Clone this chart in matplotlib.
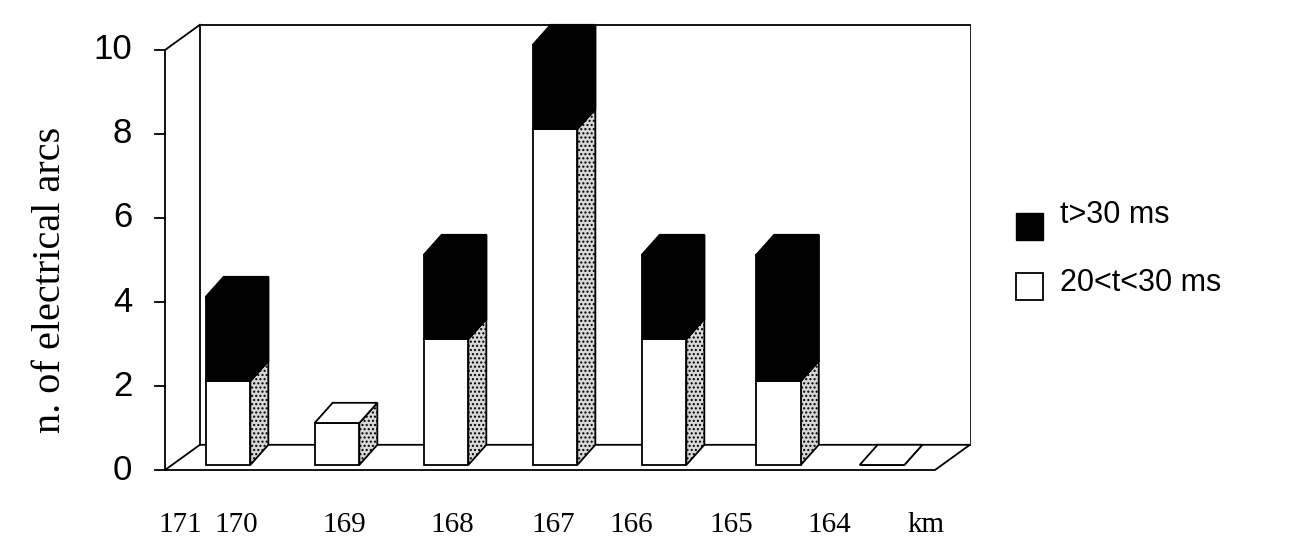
import matplotlib
matplotlib.use("Agg")
import matplotlib.pyplot as plt
from matplotlib.patches import Polygon, Rectangle

low = [2, 1, 3, 8, 3, 2, 0]      # 20<t<30 ms
high = [2, 0, 2, 2, 2, 3, 0]     # t>30 ms
km_labels = ["171", "170", "169", "168", "167", "166", "165", "164", "km"]
km_pos = [-0.44, 0.08, 1.07, 2.06, 2.98, 3.7, 4.62, 5.52, 6.4]
yticks = [0, 2, 4, 6, 8, 10]

W, D, DY = 0.41, 0.165, 0.48
WX, WY = 0.32, 0.6
B0 = 0.12  # bars sit slightly behind the floor front edge

fig = plt.figure(figsize=(12.97, 5.6), dpi=100)
ax = fig.add_axes([0, 0, 1, 1])
ax.set_xlim(-228/109, (1297-228)/109)
ax.set_ylim(-90/42, 470/42)
ax.axis("off")

x0, x1 = (165-228)/109, (935-228)/109
lw = 1.3
ax.add_patch(Polygon([(x0, 0), (x1, 0), (x1+WX, WY), (x0+WX, WY)], closed=True, fc="white", ec="black", lw=lw))
ax.plot([x0+WX, x0+WX, x1+WX], [WY, 10+WY, 10+WY], color="black", lw=lw)
ax.plot([x0, x0+WX], [10, 10+WY], color="black", lw=lw)
ax.plot([x0, x0], [0, 10], color="black", lw=lw)
ax.plot([x1+WX, x1+WX], [WY, 10+WY], color="black", lw=0.6)
for t in yticks:
    ax.plot([x0-0.09, x0], [t, t], color="black", lw=lw)
    ax.text(x0-0.3, t, str(t), ha="right", va="center", fontsize=25, family="Liberation Sans")

def box(x, b, h, fc, topfc):
    ax.add_patch(Polygon([(x+W, b), (x+W+D, b+DY), (x+W+D, b+h+DY), (x+W, b+h)], closed=True, fc="#d8d8d8", ec="black", lw=lw, hatch="....", zorder=3))
    ax.add_patch(Rectangle((x, b), W, h, fc=fc, ec="black", lw=lw, zorder=3))
    ax.add_patch(Polygon([(x, b+h), (x+D, b+h+DY), (x+W+D, b+h+DY), (x+W, b+h)], closed=True, fc=topfc, ec="black", lw=lw, zorder=3))

for i, (a, c) in enumerate(zip(low, high)):
    x = i - W/2 + (0.05 if i == 5 else 0)
    box(x, B0, a, "white", "white" if c == 0 else "black")
    if c:
        box(x, B0 + a, c, "black", "black")
        ax.add_patch(Polygon([(x+W, B0+a), (x+W+D, B0+a+DY), (x+W+D, B0+a+c+DY), (x+W, B0+a+c)], closed=True, fc="black", ec="black", lw=lw, zorder=3))

for p, s in zip(km_pos, km_labels):
    ax.text(p, -1.3, s, ha="center", va="center", fontsize=21, family="Liberation Serif")

fig.text(50/1297, 0.5, "n. of electrical arcs", rotation=90, ha="center", va="center", fontsize=29, family="Liberation Serif")

fig.patches.append(Rectangle((1016/1297, 1-240/560), 27/1297, 27/560, transform=fig.transFigure, fc="black", ec="black"))
fig.patches.append(Rectangle((1016/1297, 1-300/560), 27/1297, 27/560, transform=fig.transFigure, fc="white", ec="black", lw=1.3))
fig.text(1060/1297, 1-215/560, "t>30 ms", fontsize=22, family="Liberation Sans", va="center")
fig.text(1060/1297, 1-283/560, "20<t<30 ms", fontsize=22, family="Liberation Sans", va="center")

fig.savefig("out.png", dpi=100)
